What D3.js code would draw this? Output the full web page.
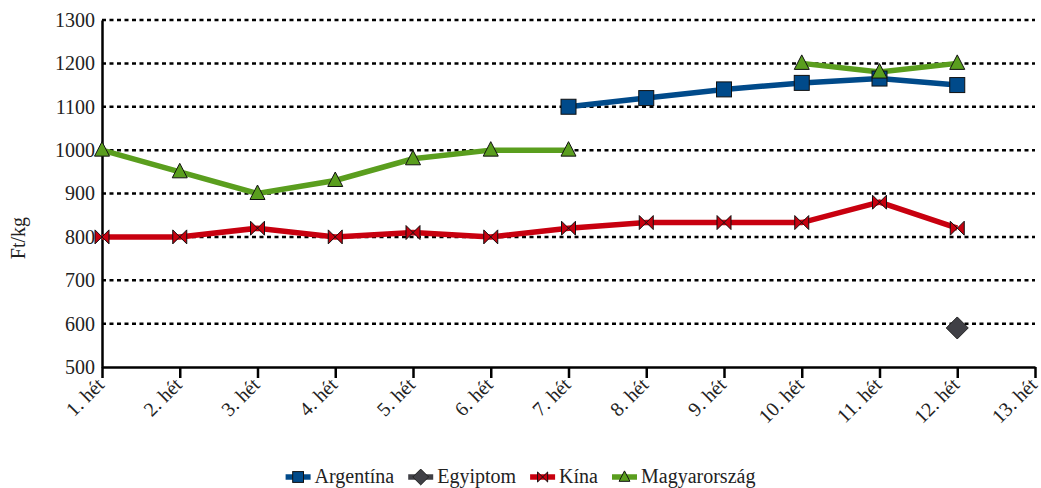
<!DOCTYPE html>
<html><head><meta charset="utf-8">
<script src="https://cdn.jsdelivr.net/npm/d3@7"></script>
<style>body{margin:0;background:#fff}svg{display:block}</style>
</head><body><svg id="c" width="1041" height="488"></svg>
<script>
const categories = ["1. hét","2. hét","3. hét","4. hét","5. hét","6. hét","7. hét","8. hét","9. hét","10. hét","11. hét","12. hét","13. hét"];
const argentina = [null,null,null,null,null,null,1100,1120,1140,1155,1165,1150,null];
const egyiptom = [null,null,null,null,null,null,null,null,null,null,null,590,null];
const kina = [800,800,820,800,810,800,820,833,833,833,880,820,null];
const magyarorszag = [1000,950,900,930,980,1000,1000,null,null,1200,1180,1200,null];
const yTicks = [500,600,700,800,900,1000,1100,1200,1300];
const seriesNames = ["Argentína","Egyiptom","Kína","Magyarország"];
const colors = ["#004a8a","#404046","#c8000f","#5a9e1e"];
const markerTypes = ["square","diamond","bowtie","triangle"];
const FONT = "'Liberation Serif', 'Times New Roman', serif";

const svg = d3.select("#c");
const L=102,R=1035,T=20,B=367;
const x = d3.scalePoint().domain(categories).range([L,R]);
const y = d3.scaleLinear().domain([500,1300]).range([B,T]);

// grid
svg.append("g").selectAll("line").data(yTicks.slice(1)).join("line")
 .attr("x1",L).attr("x2",R).attr("y1",d=>y(d)).attr("y2",d=>y(d))
 .attr("stroke","#000").attr("stroke-width",2.5).attr("stroke-dasharray","4,3.5");

// y axis
const ya = svg.append("g").attr("transform",`translate(${L},0)`).call(d3.axisLeft(y).tickValues(yTicks).tickSize(0).tickPadding(7).tickFormat(d3.format("d")));
ya.attr("font-family",null).attr("font-size",null);
ya.select(".domain").attr("stroke","#000").attr("stroke-width",2.5);
ya.selectAll("text").style("font-family",FONT).style("font-size","20px").style("fill","#222");

// x axis
const xa = svg.append("g").attr("transform",`translate(0,${B})`).call(d3.axisBottom(x).tickSize(11).tickSizeOuter(0));
xa.attr("font-family",null).attr("font-size",null);
xa.select(".domain").attr("stroke","#000").attr("stroke-width",2.5);
xa.selectAll(".tick line").attr("stroke","#000").attr("stroke-width",2.5);
xa.selectAll("text").style("font-family",FONT).style("font-size","20px").style("fill","#222")
 .attr("text-anchor","end").attr("dy",null).attr("y",0)
 .attr("transform","translate(3,19) rotate(-45)");

svg.append("text").attr("transform","translate(25,238) rotate(-90)").attr("text-anchor","middle")
 .style("font-family",FONT).style("font-size","20px").style("fill","#222").text("Ft/kg");

function drawMarker(g,type,cx,cy,color,k){
  k=k||1;
  if(type==="square"){
    g.append("rect").attr("x",cx-7.5*k).attr("y",cy-7.5*k).attr("width",15*k).attr("height",15*k)
     .attr("fill",color).attr("stroke","#111").attr("stroke-width",1);
  } else if(type==="diamond"){
    const r=11*k;
    g.append("path").attr("d",`M${cx},${cy-r}L${cx+r},${cy}L${cx},${cy+r}L${cx-r},${cy}Z`)
     .attr("fill",color).attr("stroke","#222").attr("stroke-width",1);
  } else if(type==="bowtie"){
    const r=7*k;
    g.append("path").attr("d",`M${cx-r},${cy-r}L${cx+r},${cy+r}L${cx+r},${cy-r}L${cx-r},${cy+r}Z`)
     .attr("fill",color).attr("stroke","#111").attr("stroke-width",1);
  } else {
    g.append("path").attr("d",`M${cx},${cy-8.5*k}L${cx+7.5*k},${cy+6*k}L${cx-7.5*k},${cy+6*k}Z`)
     .attr("fill",color).attr("stroke","#111").attr("stroke-width",1);
  }
}

const allSeries=[argentina,egyiptom,kina,magyarorszag];
const order=[2,0,3,1];
const line = d3.line().defined(d=>d!=null).x((d,i)=>x(categories[i])).y(d=>y(d));
order.forEach(s=>{
  svg.append("path").datum(allSeries[s]).attr("d",line).attr("fill","none")
   .attr("stroke",colors[s]).attr("stroke-width",5.5);
});
order.forEach(s=>{
  const g=svg.append("g");
  allSeries[s].forEach((d,i)=>{ if(d!=null) drawMarker(g,markerTypes[s],x(categories[i]),y(d),colors[s]); });
});

// legend
let cur=0;
const lg=svg.append("g");
seriesNames.forEach((n,s)=>{
  const it=lg.append("g").attr("transform",`translate(${cur},0)`);
  it.append("line").attr("x1",0).attr("x2",25).attr("y1",0).attr("y2",0).attr("stroke",colors[s]).attr("stroke-width",5.5);
  drawMarker(it,markerTypes[s],12.5,0,colors[s],0.72);
  const t=it.append("text").attr("x",29).attr("y",6).style("font-family",FONT).style("font-size","20px").style("fill","#222").text(n);
  cur+=29+t.node().getComputedTextLength()+14;
});
const w=cur-14;
lg.attr("transform",`translate(${(1041-w)/2},477)`);
</script></body></html>
